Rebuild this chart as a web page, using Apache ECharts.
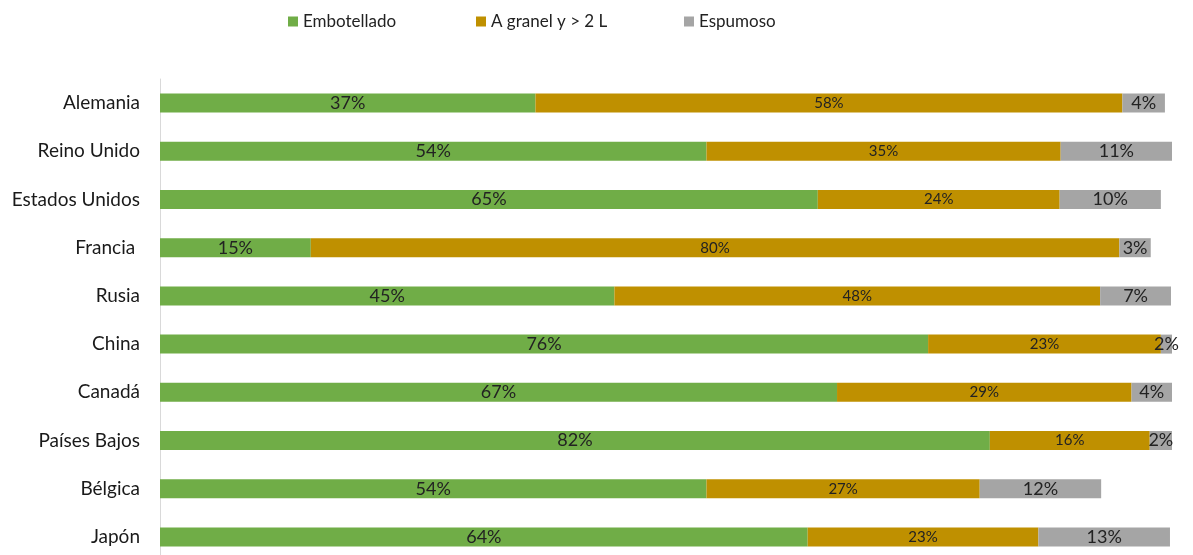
<!DOCTYPE html>
<html>
<head>
  <meta charset="utf8">
  <script src="https://cdn.jsdelivr.net/npm/echarts@6/dist/echarts.min.js"></script>
  <style>
    html, body { margin: 0; padding: 0; background: #fff; }
    #main { width: 1193px; height: 555px; }
  </style>
</head>
<body>
<div id="main"></div>
<script type="text/javascript">
  // paises (de arriba a abajo)
  var paises = ['Alemania', 'Reino Unido', 'Estados Unidos', 'Francia ', 'Rusia',
                'China', 'Canadá', 'Países Bajos', 'Bélgica', 'Japón'];
  // cuota en %
  var embotellado = [37.1, 54.0, 65.0, 14.9, 44.9, 75.9, 66.9, 82.0, 54.0, 64.0];
  var granel      = [58.0, 35.0, 23.9, 79.9, 48.0, 23.0, 29.1, 15.8, 27.0, 22.8];
  var espumoso    = [4.2, 11.0, 10.0, 3.1, 7.0, 1.5, 4.0, 2.2, 12.0, 13.0];

  var fuente = 'Lato, "Open Sans", sans-serif';

  function pct(p) { return Math.round(p.value) + '%'; }

  function serie(nombre, datos, color, tam) {
      return {
          name: nombre,
          type: 'bar',
          stack: 'total',
          barWidth: 19,
          data: datos,
          itemStyle: { color: color },
          label: {
              show: true,
              position: 'inside',
              formatter: pct,
              color: '#222',
              fontSize: tam,
              fontFamily: fuente
          }
      };
  }

  function leyenda(nombre, x) {
      return {
          data: [nombre],
          left: x,
          top: 13,
          padding: 0,
          itemWidth: 10,
          itemHeight: 10,
          icon: 'rect',
          textStyle: { fontSize: 17, color: '#222', fontFamily: fuente }
      };
  }

  var chart = echarts.init(document.getElementById('main'));
  chart.setOption({
      animation: false,
      legend: [
          leyenda('Embotellado', 288),
          leyenda('A granel y > 2 L', 476),
          leyenda('Espumoso', 684)
      ],
      grid: { left: 160, top: 79, width: 1012, height: 482,
              containLabel: false, outerBoundsMode: 'none' },
      xAxis: {
          type: 'value',
          min: 0,
          max: 100,
          show: false
      },
      yAxis: {
          type: 'category',
          data: paises,
          inverse: true,
          axisLine: { lineStyle: { color: '#d9d9d9' } },
          axisTick: { show: false },
          axisLabel: { fontSize: 19, color: '#1a1a1a', margin: 20, fontFamily: fuente }
      },
      series: [
          serie('Embotellado', embotellado, '#70ad47', 18),
          serie('A granel y > 2 L', granel, '#bf9000', 15),
          serie('Espumoso', espumoso, '#a5a5a5', 18)
      ]
  });
</script>
</body>
</html>
